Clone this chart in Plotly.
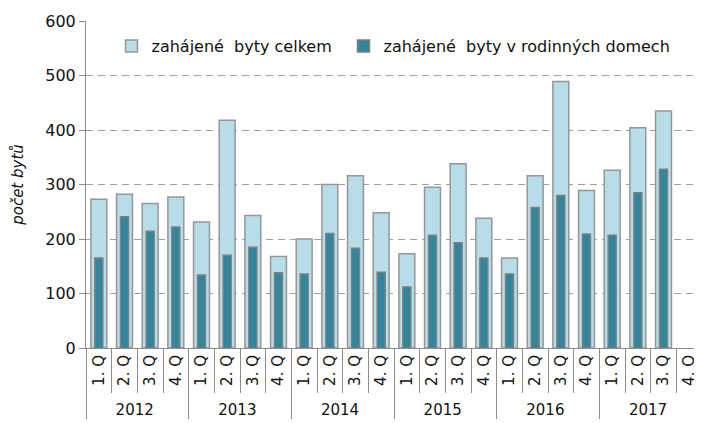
import plotly.graph_objects as go

years = ["2012"] * 4 + ["2013"] * 4 + ["2014"] * 4 + ["2015"] * 4 + ["2016"] * 4 + ["2017"] * 4
quarters = ["1. Q", "2. Q", "3. Q", "4. Q"] * 6

total = [273, 282, 265, 277,
         231, 418, 243, 168,
         200, 300, 316, 248,
         173, 295, 338, 238,
         165, 316, 489, 289,
         326, 404, 435, None]
family = [165, 241, 214, 222,
          134, 170, 185, 138,
          136, 210, 183, 139,
          112, 207, 193, 165,
          136, 258, 280, 209,
          207, 285, 328, None]

name_total = "zahájené\u00a0 byty celkem"
name_family = "zahájené\u00a0 byty v rodinných domech"

fig = go.Figure()
fig.add_trace(go.Bar(
    x=[years, quarters], y=total, name=name_total, legend="legend",
    width=0.62, marker=dict(color="#b7dde8", line=dict(color="#969696", width=1.5)),
))
fig.add_trace(go.Bar(
    x=[years, quarters], y=family, name=name_family, legend="legend2",
    width=0.31, marker=dict(color="#31859c", line=dict(color="#7f7f7f", width=1.5)),
))

leg_common = dict(orientation="h", y=0.975, xanchor="left", yanchor="top",
                  bgcolor="rgba(255,255,255,0)", font=dict(size=16),
                  itemwidth=30, tracegroupgap=0)

# the page body has an 8px margin, so the figure is 8px smaller and margins shifted
fig.update_layout(
    width=694, height=415,
    barmode="overlay",
    margin=dict(l=78, r=0, t=13, b=75, autoexpand=False),
    paper_bgcolor="white", plot_bgcolor="white",
    font=dict(family="DejaVu Sans, Liberation Sans, Arial, sans-serif", size=16, color="#111111"),
    legend=dict(x=0.0414, **leg_common),
    legend2=dict(x=0.418, **leg_common),
    showlegend=True,
)
fig.update_yaxes(
    range=[0, 600], dtick=100, tick0=0,
    showgrid=True, gridcolor="#a0a0a0", griddash="7px,5px", gridwidth=1,
    showline=True, linecolor="#8c8c8c", linewidth=1,
    ticks="outside", ticklen=6, tickcolor="#8c8c8c",
    tickfont=dict(size=16),
    zeroline=False,
    title=dict(text="<i>počet bytů</i>", font=dict(size=15), standoff=18),
)
fig.update_xaxes(
    type="multicategory",
    range=[-0.5, 23.5],
    showline=True, linecolor="#8c8c8c", linewidth=1,
    ticks="outside", tickson="boundaries", ticklen=44, tickcolor="#8c8c8c",
    tickangle=-90, tickfont=dict(size=15),
    showdividers=True, dividercolor="#8c8c8c", dividerwidth=1,
    showgrid=False,
)

fig.write_html("out.html")
